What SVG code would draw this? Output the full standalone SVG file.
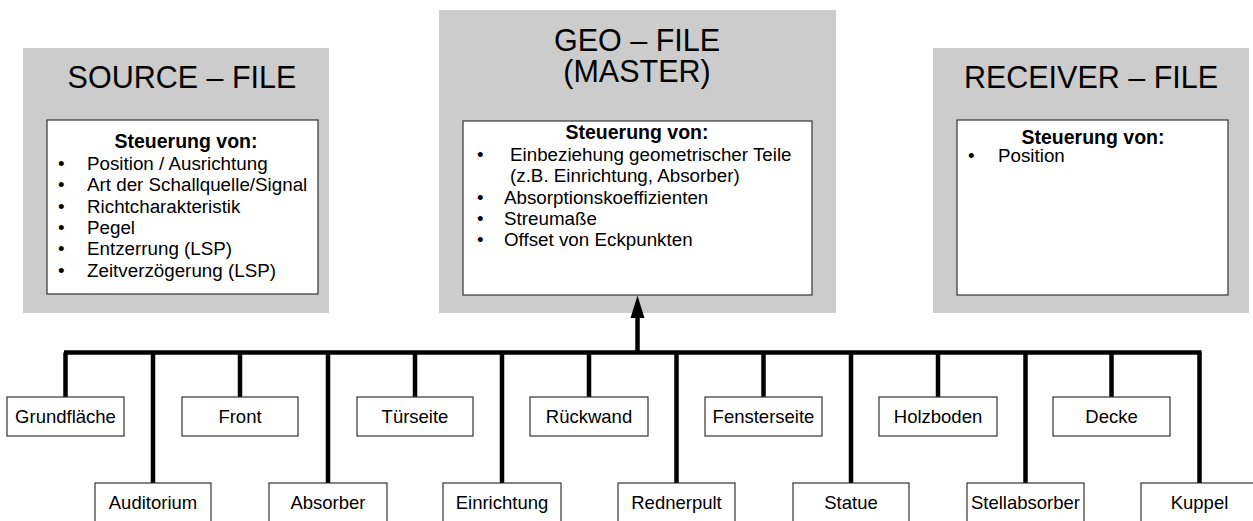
<svg xmlns="http://www.w3.org/2000/svg" width="1253" height="521" viewBox="0 0 1253 521">
<style>
.panel{fill:#cccccc;stroke:none}
.card{fill:#ffffff;stroke:#333333;stroke-width:1.2}
.title{font-family:"Liberation Sans",Arial,sans-serif;font-size:30.5px;fill:#000;text-anchor:middle}
.head{font-family:"Liberation Sans",Arial,sans-serif;font-size:19.5px;font-weight:bold;fill:#000;text-anchor:middle}
.item{font-family:"Liberation Sans",Arial,sans-serif;font-size:18.8px;fill:#000}
.lbl{font-family:"Liberation Sans",Arial,sans-serif;font-size:18.5px;fill:#000;text-anchor:middle}
.box{fill:#ffffff;stroke:#333333;stroke-width:1.2}
.wire{stroke:#000;stroke-width:4.5;fill:none}
.head-arrow{fill:#000;stroke:none}
</style>

<g id="source-file">
<rect class="panel" x="23" y="48" width="306" height="265"/>
<text class="title" x="182" y="88">SOURCE – FILE</text>
<rect class="card" x="47" y="120" width="271" height="174"/>
<text class="head" x="186" y="148">Steuerung von:</text>
<g class="item">
<text x="58" y="169.8">•</text><text x="87" y="169.8">Position / Ausrichtung</text>
<text x="58" y="191.2">•</text><text x="87" y="191.2">Art der Schallquelle/Signal</text>
<text x="58" y="212.6">•</text><text x="87" y="212.6">Richtcharakteristik</text>
<text x="58" y="234">•</text><text x="87" y="234">Pegel</text>
<text x="58" y="255.4">•</text><text x="87" y="255.4">Entzerrung (LSP)</text>
<text x="58" y="276.8">•</text><text x="87" y="276.8">Zeitverzögerung (LSP)</text>
</g>
</g>

<g id="geo-file">
<rect class="panel" x="439" y="10" width="397" height="303"/>
<text class="title" x="637" y="51">GEO – FILE</text>
<text class="title" x="637" y="82">(MASTER)</text>
<rect class="card" x="463" y="121" width="349" height="174"/>
<text class="head" x="637" y="139">Steuerung von:</text>
<g class="item">
<text x="477" y="161">•</text><text x="510" y="161">Einbeziehung geometrischer Teile</text>
<text x="510" y="182">(z.B. Einrichtung, Absorber)</text>
<text x="477" y="203.5">•</text><text x="504" y="203.5">Absorptionskoeffizienten</text>
<text x="477" y="224.5">•</text><text x="504" y="224.5">Streumaße</text>
<text x="477" y="245.5">•</text><text x="504" y="245.5">Offset von Eckpunkten</text>
</g>
</g>

<g id="receiver-file">
<rect class="panel" x="933" y="48" width="316" height="265"/>
<text class="title" x="1091" y="88">RECEIVER – FILE</text>
<rect class="card" x="957" y="120" width="271" height="175"/>
<text class="head" x="1093" y="144">Steuerung von:</text>
<g class="item">
<text x="968" y="162">•</text><text x="998" y="162">Position</text>
</g>
</g>

<g id="connectors">
<line class="wire" x1="64" y1="352.5" x2="1201.5" y2="352.5"/>
<line class="wire" x1="637.5" y1="352.5" x2="637.5" y2="314"/>
<polygon class="head-arrow" points="630.5,318 637.5,295.5 644.5,318"/>
<line class="wire" x1="65.5" y1="352.5" x2="65.5" y2="397"/>
<line class="wire" x1="240" y1="352.5" x2="240" y2="397"/>
<line class="wire" x1="415" y1="352.5" x2="415" y2="397"/>
<line class="wire" x1="589" y1="352.5" x2="589" y2="397"/>
<line class="wire" x1="763.5" y1="352.5" x2="763.5" y2="397"/>
<line class="wire" x1="938" y1="352.5" x2="938" y2="397"/>
<line class="wire" x1="1111.5" y1="352.5" x2="1111.5" y2="397"/>
<line class="wire" x1="153" y1="352.5" x2="153" y2="483"/>
<line class="wire" x1="328" y1="352.5" x2="328" y2="483"/>
<line class="wire" x1="502" y1="352.5" x2="502" y2="483"/>
<line class="wire" x1="676.5" y1="352.5" x2="676.5" y2="483"/>
<line class="wire" x1="851" y1="352.5" x2="851" y2="483"/>
<line class="wire" x1="1025.5" y1="352.5" x2="1025.5" y2="483"/>
<line class="wire" x1="1199.5" y1="352.5" x2="1199.5" y2="483"/>
</g>

<g id="n-grundflaeche"><rect class="box" x="7" y="397" width="117" height="39"/><text class="lbl" x="65.5" y="423">Grundfläche</text></g>
<g id="n-front"><rect class="box" x="182" y="397" width="116" height="39"/><text class="lbl" x="240" y="423">Front</text></g>
<g id="n-tuerseite"><rect class="box" x="357" y="397" width="116" height="39"/><text class="lbl" x="415" y="423">Türseite</text></g>
<g id="n-rueckwand"><rect class="box" x="530" y="397" width="118" height="39"/><text class="lbl" x="589" y="423">Rückwand</text></g>
<g id="n-fensterseite"><rect class="box" x="705" y="397" width="117" height="39"/><text class="lbl" x="763.5" y="423">Fensterseite</text></g>
<g id="n-holzboden"><rect class="box" x="879" y="397" width="118" height="39"/><text class="lbl" x="938" y="423">Holzboden</text></g>
<g id="n-decke"><rect class="box" x="1053" y="397" width="117" height="39"/><text class="lbl" x="1111.5" y="423">Decke</text></g>

<g id="n-auditorium"><rect class="box" x="95" y="483" width="116" height="45"/><text class="lbl" x="153" y="509">Auditorium</text></g>
<g id="n-absorber"><rect class="box" x="269" y="483" width="118" height="45"/><text class="lbl" x="328" y="509">Absorber</text></g>
<g id="n-einrichtung"><rect class="box" x="443" y="483" width="118" height="45"/><text class="lbl" x="502" y="509">Einrichtung</text></g>
<g id="n-rednerpult"><rect class="box" x="618" y="483" width="117" height="45"/><text class="lbl" x="676.5" y="509">Rednerpult</text></g>
<g id="n-statue"><rect class="box" x="793" y="483" width="116" height="45"/><text class="lbl" x="851" y="509">Statue</text></g>
<g id="n-stellabsorber"><rect class="box" x="967" y="483" width="117" height="45"/><text class="lbl" x="1025.5" y="509">Stellabsorber</text></g>
<g id="n-kuppel"><rect class="box" x="1141" y="483" width="117" height="45"/><text class="lbl" x="1199.5" y="509">Kuppel</text></g>
</svg>
